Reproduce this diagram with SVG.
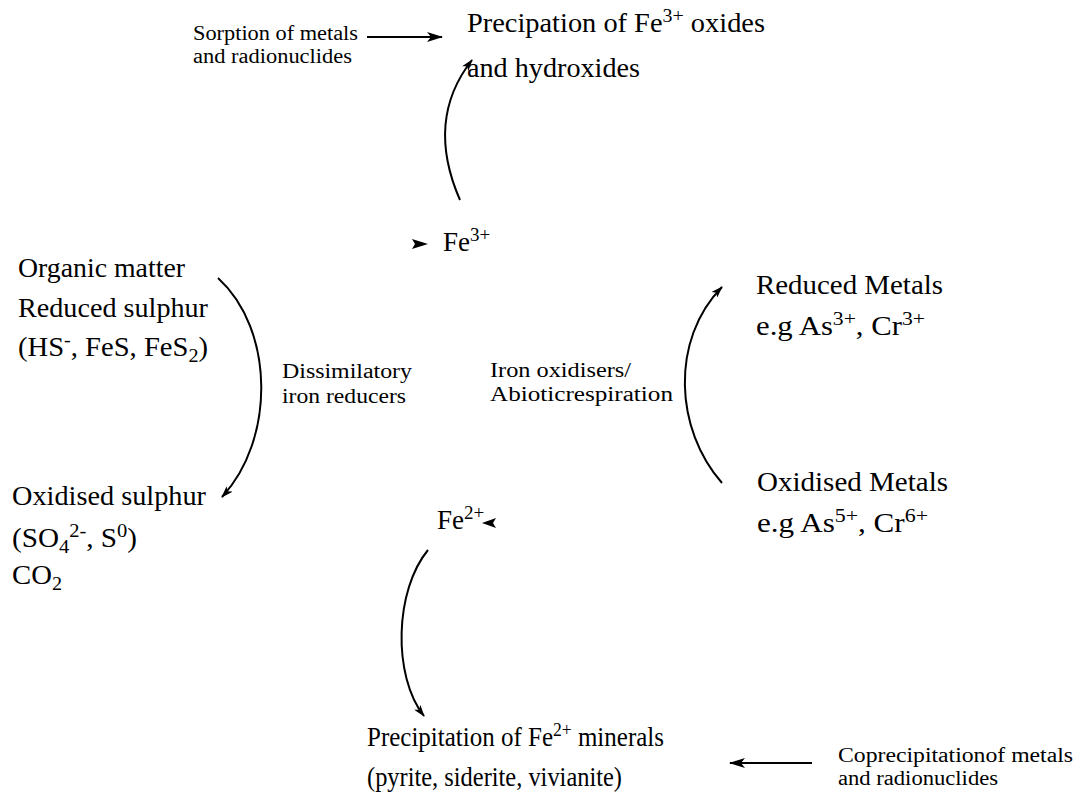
<svg xmlns="http://www.w3.org/2000/svg" width="1084" height="800" viewBox="0 0 1084 800">
<style>
text{font-family:"Liberation Serif","Times New Roman",serif;fill:#000}
.L{font-size:27px}
.S{font-size:20px}
.sup{font-size:19px;baseline-shift:10px}
.sub{font-size:19px;baseline-shift:-6px}
.c{fill:none;stroke:#000;stroke-width:2}
</style>
<defs>
<marker id="ah" viewBox="0 0 12 8" refX="11" refY="4" markerWidth="12" markerHeight="8" markerUnits="userSpaceOnUse" orient="auto">
<path d="M0,0 L12,4 L0,8 L3,4 z" fill="#000"/>
</marker>
<marker id="ahb" viewBox="0 0 16 10" refX="15" refY="5" markerWidth="16" markerHeight="10" markerUnits="userSpaceOnUse" orient="auto">
<path d="M0,0 L16,5 L0,10 L4,5 z" fill="#000"/>
</marker>
</defs>
<rect width="1084" height="800" fill="#fff"/>
<g id="connectors">
<line class="c" x1="367" y1="37" x2="442" y2="37" marker-end="url(#ahb)"/>
<line class="c" x1="812" y1="763" x2="730" y2="763" marker-end="url(#ahb)"/>
<path class="c" d="M460,200 Q425,120 472,60" marker-end="url(#ah)"/>
<path class="c" d="M218,278 C275,330 275,440 222,497" marker-end="url(#ah)"/>
<path class="c" d="M722,483 C675,430 670,340 722,287" marker-end="url(#ah)"/>
<path class="c" d="M428,550 C395,590 392,675 424,716" marker-end="url(#ah)"/>
<path d="M412,239 L428,244 L412,249 L415,244 z" fill="#000"/>
<path d="M496,518 L482,523 L496,528 L493,523 z" fill="#000"/>
</g>
<g id="sorption">
<text class="S" x="193" y="40" textLength="165" lengthAdjust="spacingAndGlyphs">Sorption of metals</text>
<text class="S" x="193" y="63" textLength="159" lengthAdjust="spacingAndGlyphs">and radionuclides</text>
</g>
<g id="fe3-precip">
<text class="L" x="467" y="32" textLength="298" lengthAdjust="spacingAndGlyphs">Precipation  of Fe<tspan class="sup">3+</tspan> oxides</text>
<text class="L" x="467" y="77" textLength="173" lengthAdjust="spacingAndGlyphs">and hydroxides</text>
</g>
<g id="fe3">
<text class="L" x="443" y="251">Fe<tspan class="sup">3+</tspan></text>
</g>
<g id="reduced-sulphur">
<text class="L" x="18" y="277" textLength="167" lengthAdjust="spacingAndGlyphs">Organic matter</text>
<text class="L" x="18" y="317" textLength="190" lengthAdjust="spacingAndGlyphs">Reduced sulphur</text>
<text class="L" x="18" y="356" textLength="190" lengthAdjust="spacingAndGlyphs">(HS<tspan class="sup">-</tspan>, FeS, FeS<tspan class="sub">2</tspan>)</text>
</g>
<g id="dissimilatory">
<text class="S" x="282" y="378" textLength="130" lengthAdjust="spacingAndGlyphs">Dissimilatory</text>
<text class="S" x="282" y="403" textLength="124" lengthAdjust="spacingAndGlyphs">iron reducers</text>
</g>
<g id="iron-oxidisers">
<text class="S" x="490" y="377" textLength="141" lengthAdjust="spacingAndGlyphs">Iron oxidisers/</text>
<text class="S" x="490" y="401" textLength="183" lengthAdjust="spacingAndGlyphs">Abioticrespiration</text>
</g>
<g id="reduced-metals">
<text class="L" x="756" y="294" textLength="187" lengthAdjust="spacingAndGlyphs">Reduced Metals</text>
<text class="L" x="756" y="335" textLength="169" lengthAdjust="spacingAndGlyphs">e.g As<tspan class="sup">3+</tspan>, Cr<tspan class="sup">3+</tspan></text>
</g>
<g id="oxidised-metals">
<text class="L" x="757" y="491" textLength="191" lengthAdjust="spacingAndGlyphs">Oxidised Metals</text>
<text class="L" x="757" y="532" textLength="171" lengthAdjust="spacingAndGlyphs">e.g As<tspan class="sup">5+</tspan>, Cr<tspan class="sup">6+</tspan></text>
</g>
<g id="oxidised-sulphur">
<text class="L" x="12" y="505" textLength="194" lengthAdjust="spacingAndGlyphs">Oxidised sulphur</text>
<text class="L" x="12" y="547" textLength="125" lengthAdjust="spacingAndGlyphs">(SO<tspan class="sub">4</tspan><tspan class="sup">2-</tspan>, S<tspan class="sup">0</tspan>)</text>
<text class="L" x="12" y="584" textLength="50" lengthAdjust="spacingAndGlyphs">CO<tspan class="sub">2</tspan></text>
</g>
<g id="fe2">
<text class="L" x="437" y="529">Fe<tspan class="sup">2+</tspan></text>
</g>
<g id="fe2-precip">
<text class="L" x="367" y="746" textLength="297" lengthAdjust="spacingAndGlyphs">Precipitation  of Fe<tspan class="sup">2+</tspan> minerals</text>
<text class="L" x="367" y="786" textLength="255" lengthAdjust="spacingAndGlyphs">(pyrite, siderite, vivianite)</text>
</g>
<g id="coprecipitation">
<text class="S" x="838" y="762" textLength="235" lengthAdjust="spacingAndGlyphs">Coprecipitationof metals</text>
<text class="S" x="838" y="785" textLength="160" lengthAdjust="spacingAndGlyphs">and radionuclides</text>
</g>
</svg>
